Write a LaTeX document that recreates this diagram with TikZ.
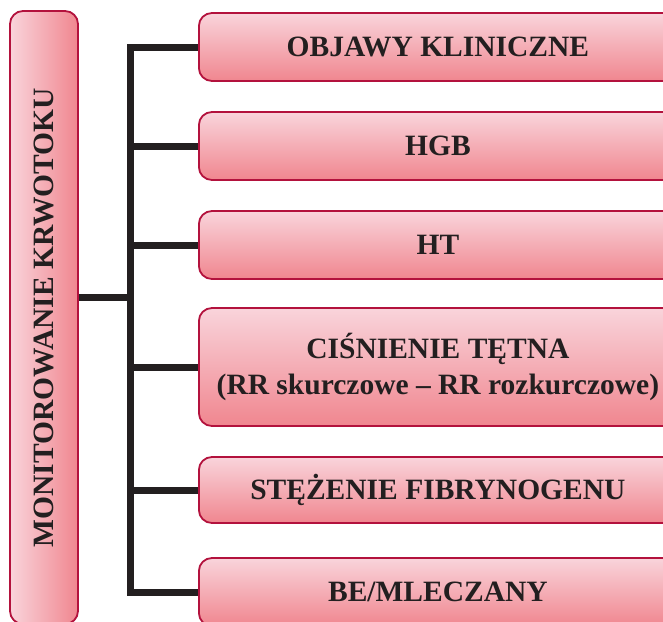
\documentclass[tikz,border=0pt]{standalone}
\usepackage{fontspec}
\setmainfont{Liberation Serif}
\begin{document}
\definecolor{boxedge}{HTML}{B3123D}
\definecolor{boxlight}{HTML}{F9D4DB}
\definecolor{boxdark}{HTML}{F0868F}
\definecolor{ink}{HTML}{231F20}
\tikzset{
  itembox/.style={draw=boxedge, line width=1.8pt, rounded corners=13pt,
    top color=boxlight, bottom color=boxdark, text=ink,
    font=\fontsize{29.5}{36}\selectfont\bfseries, align=center,
    minimum width=478pt, minimum height=68pt, inner sep=0pt, anchor=west},
  rootbox/.style={itembox, anchor=center, minimum width=613pt,
    left color=boxlight, right color=boxdark},
  conn/.style={draw=ink, line width=7pt}
}
\begin{tikzpicture}[x=1pt, y=-1pt]
  \useasboundingbox (0,0) rectangle (663,621);
  \clip (0,0) rectangle (663,621);
  % root box with upright-reading label
  \node[rootbox, rotate=90] (root) at (44,317.5) {MONITOROWANIE KRWOTOKU};
  % item boxes
  \node[itembox] (b1) at (198,47) {OBJAWY KLINICZNE};
  \node[itembox] (b2) at (198,146) {HGB};
  \node[itembox] (b3) at (198,245) {HT};
  \node[itembox, minimum height=118pt] (b4) at (198,367) {CIŚNIENIE TĘTNA\\(RR skurczowe – RR rozkurczowe)};
  \node[itembox, minimum height=66pt] (b5) at (198,490) {STĘŻENIE FIBRYNOGENU};
  \node[itembox] (b6) at (198,592) {BE/MLECZANY};
  % tree connectors
  \coordinate (j) at (130,297);
  \draw[conn] (root.south |- j) -- (j);
  \foreach \b in {b1,b2,b3,b4,b5,b6}
    \draw[conn] (j) |- (\b.west);
\end{tikzpicture}
\end{document}
